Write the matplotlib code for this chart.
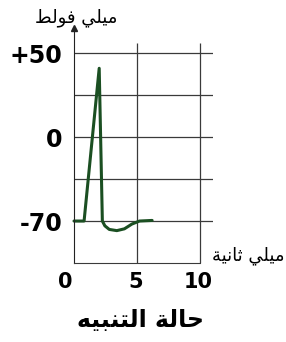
import numpy as np
import matplotlib
matplotlib.use('Agg')
from matplotlib import pyplot as plt
from matplotlib.transforms import ScaledTranslation

# action potential trace (ms, mV)
time_ms = [0, 0.8, 2.0, 2.25, 2.45, 2.8, 3.4, 4.0, 4.6, 5.2, 6.2]
potential_mv = [-70, -70, 41, -70, -74, -77, -78, -76.5, -72.5, -70, -69.5]

y_ticks = [-70, 0, 50]
y_tick_labels = ['-70', '0', '+50']
x_ticks = [0, 5, 10]
x_tick_labels = ['0', '5', '10']
h_grid = [-70, -35, 0, 25, 50]
v_grid = [5, 10]

title = 'حالة التنبيه'
y_label = 'ميلي فولط'
x_label = 'ميلي ثانية'

# minimal arabic shaping (matplotlib has no text shaping)
FORMS = {
    'ا': ('\uFE8D', '\uFE8E', None, None),
    'ب': ('\uFE8F', '\uFE90', '\uFE91', '\uFE92'),
    'ة': ('\uFE93', '\uFE94', None, None),
    'ت': ('\uFE95', '\uFE96', '\uFE97', '\uFE98'),
    'ث': ('\uFE99', '\uFE9A', '\uFE9B', '\uFE9C'),
    'ح': ('\uFEA1', '\uFEA2', '\uFEA3', '\uFEA4'),
    'ط': ('\uFEC1', '\uFEC2', '\uFEC3', '\uFEC4'),
    'ف': ('\uFED1', '\uFED2', '\uFED3', '\uFED4'),
    'ل': ('\uFEDD', '\uFEDE', '\uFEDF', '\uFEE0'),
    'م': ('\uFEE1', '\uFEE2', '\uFEE3', '\uFEE4'),
    'ن': ('\uFEE5', '\uFEE6', '\uFEE7', '\uFEE8'),
    'ه': ('\uFEE9', '\uFEEA', '\uFEEB', '\uFEEC'),
    'و': ('\uFEED', '\uFEEE', None, None),
    'ي': ('\uFEF1', '\uFEF2', '\uFEF3', '\uFEF4'),
}


def shape(text):
    out = []
    for i, ch in enumerate(text):
        if ch not in FORMS:
            out.append(ch)
            continue
        prev = text[i - 1] if i > 0 else ''
        nxt = text[i + 1] if i + 1 < len(text) else ''
        join_prev = prev in FORMS and FORMS[prev][2] is not None
        join_next = nxt in FORMS and FORMS[ch][2] is not None
        iso, fin, ini, med = FORMS[ch]
        if join_prev and join_next:
            out.append(med)
        elif join_prev:
            out.append(fin)
        elif join_next:
            out.append(ini)
        else:
            out.append(iso)
    return ''.join(out)[::-1]


def fwd(v):
    v = np.asarray(v, dtype=float)
    return np.where(v < 0, v / 35.0, v / 25.0)


def inv(u):
    u = np.asarray(u, dtype=float)
    return np.where(u < 0, u * 35.0, u * 25.0)


W, H = 286, 342
fig = plt.figure(figsize=(W / 100, H / 100), dpi=100)
ax = fig.add_axes([74 / W, 79 / H, 138.6 / W, 235 / H])
ax.set_yscale('function', functions=(fwd, inv))
ax.set_xlim(0, 11)
ax.set_ylim(-105, 65)

grid_col = '#3a3a3a'
ax.hlines(h_grid, 0, 11, color=grid_col, lw=0.9)
ax.vlines(v_grid, -105, 56, color=grid_col, lw=0.9)

ax.plot(time_ms, potential_mv, color='#1b4f22', lw=2.2,
        solid_joinstyle='round', solid_capstyle='round', clip_on=False)

for side in ['top', 'right']:
    ax.spines[side].set_visible(False)
ax.spines['bottom'].set_bounds(0, 10)
ax.spines['left'].set_color('#222222')
ax.spines['bottom'].set_color(grid_col)
ax.plot(0, 1, marker='^', ms=4, color='#222222',
        transform=ax.transAxes, clip_on=False)

ax.set_yticks(y_ticks)
ax.set_yticklabels(y_tick_labels, fontsize=17, fontweight='bold')
ax.set_xticks(x_ticks)
ax.set_xticklabels(x_tick_labels, fontsize=15, fontweight='bold')
ax.tick_params(axis='y', length=0, pad=8.5)
ax.tick_params(axis='x', length=0, pad=6.5)
ax.yaxis.set_minor_locator(matplotlib.ticker.NullLocator())
for lab, dx in zip(ax.get_xticklabels(), [-9, -1.5, -2]):
    lab.set_transform(lab.get_transform() +
                      ScaledTranslation(dx / 100, 0, fig.dpi_scale_trans))

fig.text(76 / W, 1 - 18 / H, shape(y_label), ha='center', va='center',
         fontsize=13, family='DejaVu Sans')
fig.text(285 / W, 1 - 256 / H, shape(x_label), ha='right', va='center',
         fontsize=13, family='DejaVu Sans')
fig.text(140 / W, 1 - 320 / H, shape(title), ha='center', va='center',
         fontsize=17, fontweight='bold', family='DejaVu Sans')

fig.savefig('out.png', dpi=100)
